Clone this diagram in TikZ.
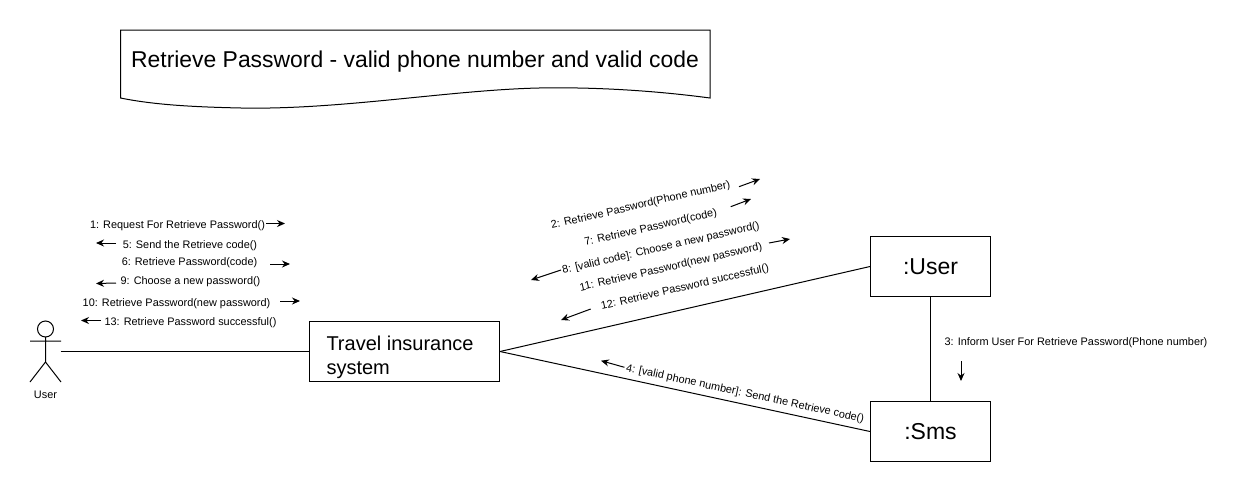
\documentclass[tikz,border=0pt]{standalone}
\usepackage{fontspec}
\setmainfont{Liberation Sans}
\usetikzlibrary{arrows.meta}
\tikzset{
  box/.style={draw=black,line width=1pt,minimum width=120pt,minimum height=60pt,inner sep=0pt,font=\fontsize{23}{28}\selectfont},
  msg/.style={font=\fontsize{10.9}{13}\selectfont,inner sep=0pt,text=black},
  arr/.style={-{Stealth[length=8pt,width=7pt]},line width=1pt},
  link/.style={line width=1pt},
}
\begin{document}
\begin{tikzpicture}[x=1pt,y=-1pt,line width=1pt]
\useasboundingbox (0,0) rectangle (1247,493);
% title
\draw[link] (120.5,30) -- (710,30) -- (710,98) .. controls (650,90) and (590,87) .. (539,88) .. controls (450,90) and (340,110) .. (241,108) .. controls (195,107) and (155,105) .. (120.5,98) -- cycle;
\node[inner sep=0pt,font=\fontsize{22.9}{28}\selectfont] (title) at (415,61.5) {Retrieve Password - valid phone number and valid code};
% boxes
\node[box,minimum width=190pt,minimum height=60pt] (sys) at (404.5,351.5) {};
\node[inner sep=0pt,align=left,anchor=west,font=\fontsize{20}{24}\selectfont] (systext) at (326,357) {Travel insurance\\system};
\node[box] (usr) at (930.5,266.5) {:User};
\node[box] (sms) at (930.5,431.5) {:Sms};
% actor
\draw[link] (45.5,329) circle (8);
\draw[link] (45.5,337) -- (45.5,362) (30,341) -- (61,341) (30,382) -- (45.5,362) -- (61,382);
\coordinate (actor) at (60.5,351.5);
\node[msg] (actorlabel) at (45.5,395) {User};
% links
\draw[link] (actor) -- (sys.west);
\draw[link] (sys.east) -- (usr.west);
\draw[link] (sys.east) -- (sms.west);
\draw[link] (usr.south) -- (sms.north);
% left labels
\node[msg] (m1) at (177.5,226) {1: Request For Retrieve Password()};
\node[msg] (m5) at (190,246) {5: Send the Retrieve code()};
\node[msg] (m6) at (189.5,263) {6: Retrieve Password(code)};
\node[msg] (m9) at (190.5,281.5) {9: Choose a new password()};
\node[msg] (m10) at (176.5,304) {10: Retrieve Password(new password)};
\node[msg] (m13) at (190.5,323) {13: Retrieve Password successful()};
\coordinate (a1s) at (266,223.5); \coordinate (a1e) at (285,223.5);
\coordinate (a5s) at (116,243); \coordinate (a5e) at (96,243);
\coordinate (a6s) at (270,264); \coordinate (a6e) at (290,264);
\coordinate (a9s) at (116,283); \coordinate (a9e) at (96,283.5);
\coordinate (a10s) at (280,301); \coordinate (a10e) at (300,301);
\coordinate (a13s) at (101,320.5); \coordinate (a13e) at (81,320.5);
\foreach \n in {1,5,6,9,10,13} \draw[arr] (a\n s) -- (a\n e);
% upper labels
\node[msg,rotate=12.9] (m2) at (640.7,205.5) {2: Retrieve Password(Phone number)};
\node[msg,rotate=12.9] (m7) at (650.7,228) {7: Retrieve Password(code)};
\node[msg,rotate=12.9] (m8) at (661,248.5) {8: [valid code]: Choose a new password()};
\node[msg,rotate=12.9] (m11) at (671,267.5) {11: Retrieve Password(new password)};
\node[msg,rotate=12.9] (m12) at (685,287.5) {12: Retrieve Password successful()};
\coordinate (a2s) at (739,186.7); \coordinate (a2e) at (760,179);
\coordinate (a7s) at (730.7,206.7); \coordinate (a7e) at (751,199);
\coordinate (a8s) at (561,270); \coordinate (a8e) at (531,280);
\coordinate (a11s) at (769,243); \coordinate (a11e) at (790,239);
\coordinate (a12s) at (590.7,309); \coordinate (a12e) at (561,320);
\foreach \n in {2,7,8,11,12} \draw[arr] (a\n s) -- (a\n e);
% lower labels
\node[msg,rotate=-12.2] (m4) at (745,394) {4: [valid phone number]: Send the Retrieve code()};
\coordinate (a4s) at (624.4,367.3); \coordinate (a4e) at (601,360.7);
\draw[arr] (a4s) -- (a4e);
\node[msg] (m3) at (1076,343) {3: Inform User For Retrieve Password(Phone number)};
\coordinate (a3s) at (961,361); \coordinate (a3e) at (961,381);
\draw[arr] (a3s) -- (a3e);
\end{tikzpicture}
\end{document}
